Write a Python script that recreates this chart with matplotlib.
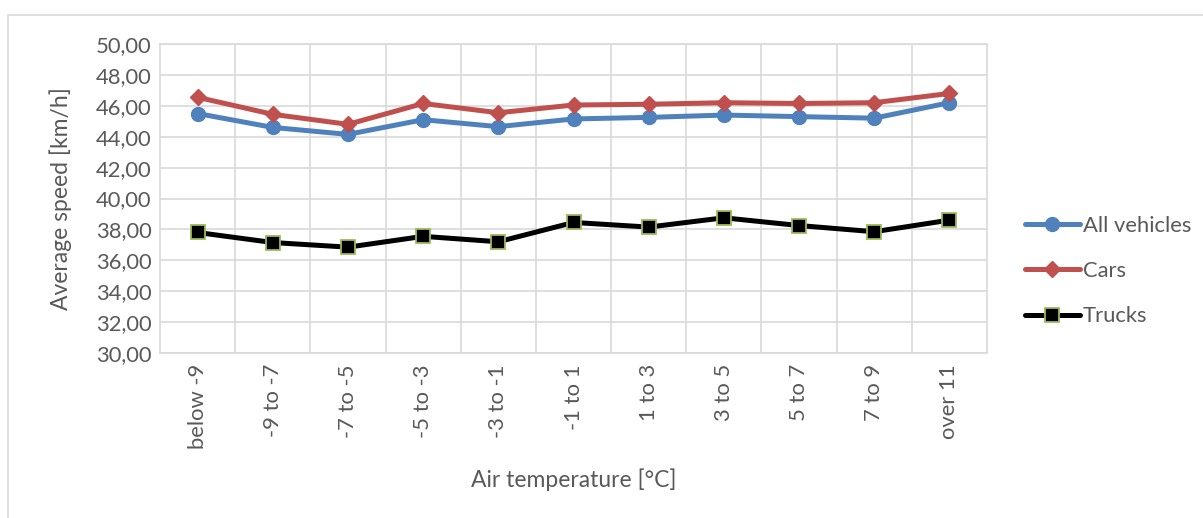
import matplotlib
matplotlib.use("Agg")
import matplotlib.pyplot as plt
from matplotlib.patches import Rectangle
from matplotlib.ticker import FuncFormatter

categories = ["below -9", "-9 to -7", "-7 to -5", "-5 to -3", "-3 to -1", "-1 to 1",
              "1 to 3", "3 to 5", "5 to 7", "7 to 9", "over 11"]
all_vehicles = [45.5, 44.6, 44.15, 45.1, 44.65, 45.15, 45.25, 45.4, 45.3, 45.2, 46.2]
cars = [46.55, 45.45, 44.8, 46.15, 45.55, 46.05, 46.1, 46.2, 46.15, 46.2, 46.8]
trucks = [37.8, 37.15, 36.85, 37.55, 37.2, 38.45, 38.15, 38.75, 38.25, 37.85, 38.6]

plt.rcParams['font.family'] = ['Lato', 'DejaVu Sans']
txt = '#595959'
grid = '#D9D9D9'

fig = plt.figure(figsize=(12.03, 5.18), dpi=100)
# chart-area border like in Excel
fig.patches.append(Rectangle((8 / 1203, -0.1), 1.2, 1 - 15 / 518 + 0.1,
                             transform=fig.transFigure, fill=False,
                             edgecolor=grid, linewidth=1.2))

ax = fig.add_axes([160 / 1203, 1 - 353 / 518, 827 / 1203, 309 / 518])
x = list(range(len(categories)))

ax.plot(x, all_vehicles, color='#4F81BD', lw=3.6, marker='o', ms=10,
        label='All vehicles', solid_capstyle='round')
ax.plot(x, cars, color='#C0504D', lw=3.6, marker='D', ms=8.5,
        label='Cars', solid_capstyle='round')
ax.plot(x, trucks, color='black', lw=3.6, marker='s', ms=9.5,
        markerfacecolor='black', markeredgecolor='#9BBB59', markeredgewidth=1.3,
        label='Trucks', solid_capstyle='round')

ax.set_xlim(-0.5, len(categories) - 0.5)
ax.set_ylim(30, 50)
ax.set_yticks(range(30, 51, 2))
ax.yaxis.set_major_formatter(FuncFormatter(lambda v, p: f"{v:.2f}".replace('.', ',')))
ax.set_xticks(x)
ax.set_xticklabels(categories, rotation=90)
ax.set_xticks([i + 0.5 for i in x[:-1]], minor=True)

ax.grid(True, which='major', axis='y', color=grid, lw=1.2)
ax.grid(True, which='minor', axis='x', color=grid, lw=1.2)
ax.set_axisbelow(True)
for s in ax.spines.values():
    s.set_color(grid)
    s.set_linewidth(1.2)
ax.tick_params(axis='both', which='both', length=0, colors=txt, labelsize=15.8)
ax.tick_params(axis='x', pad=8)
ax.tick_params(axis='y', pad=6)

ax.set_ylabel('Average speed [km/h]', color=txt, fontsize=16.5, labelpad=17)
ax.set_xlabel('Air temperature [°C]', color=txt, fontsize=16.5, labelpad=14)

leg = ax.legend(loc='center left', bbox_to_anchor=(1.035, 0.265), frameon=False,
                fontsize=15.8, handlelength=2.5, handletextpad=0.15,
                labelspacing=1.15, borderaxespad=0)
for t in leg.get_texts():
    t.set_color(txt)

fig.savefig('out.png', dpi=100)
